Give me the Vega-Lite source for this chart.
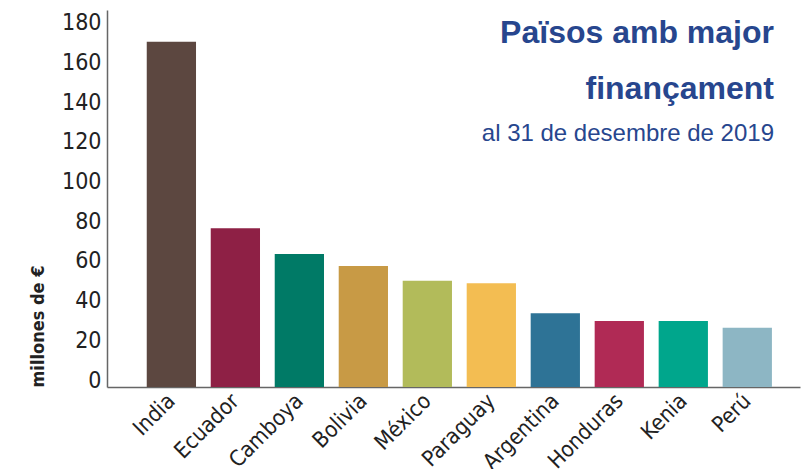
{
  "$schema": "https://vega.github.io/schema/vega-lite/v6.json",
  "width": 693,
  "height": 377,
  "autosize": {"type": "none"},
  "padding": {"left": 107, "top": 10, "right": 2, "bottom": 82},
  "background": "white",
  "config": {"view": {"stroke": null}},
  "title": {
    "text": ["Països amb major ", "finançament"],
    "subtitle": "al 31 de desembre de 2019",
    "anchor": "end",
    "frame": "group",
    "orient": "top",
    "offset": -137,
    "dx": -26,
    "font": "Liberation Sans",
    "fontSize": 32,
    "fontWeight": "bold",
    "lineHeight": 56,
    "color": "#27468e",
    "subtitleFont": "Liberation Sans",
    "subtitleFontSize": 24,
    "subtitleColor": "#27468e",
    "subtitlePadding": 16
  },
  "data": {
    "values": [
      {"pais": "India", "valor": 174},
      {"pais": "Ecuador", "valor": 80},
      {"pais": "Camboya", "valor": 67},
      {"pais": "Bolivia", "valor": 61},
      {"pais": "México", "valor": 53.5},
      {"pais": "Paraguay", "valor": 52.3},
      {"pais": "Argentina", "valor": 37.2},
      {"pais": "Honduras", "valor": 33.2},
      {"pais": "Kenia", "valor": 33.2},
      {"pais": "Perú", "valor": 29.8}
    ]
  },
  "mark": {"type": "bar"},
  "encoding": {
    "x": {
      "field": "pais",
      "type": "nominal",
      "sort": null,
      "scale": {"paddingInner": 0.23, "paddingOuter": 0.53, "align": 0.586},
      "axis": {
        "title": null,
        "labelAngle": -45,
        "labelAlign": "right",
        "labelBaseline": "middle",
        "labelPadding": 10,
        "labelFont": "Liberation Sans Narrow, DejaVu Sans Condensed",
        "labelFontSize": 22,
        "labelColor": "#222222",
        "ticks": false,
        "domainColor": "#666666",
        "domainWidth": 1.5
      }
    },
    "y": {
      "field": "valor",
      "type": "quantitative",
      "scale": {"domain": [0, 190], "nice": false},
      "axis": {
        "values": [0, 20, 40, 60, 80, 100, 120, 140, 160, 180],
        "grid": false,
        "ticks": false,
        "domainColor": "#666666",
        "domainWidth": 1.5,
        "labelBaseline": "alphabetic",
        "labelPadding": 6,
        "labelFont": "Liberation Sans Narrow, DejaVu Sans Condensed",
        "labelFontSize": 23,
        "labelColor": "#222222",
        "title": "millones de €",
        "titleFont": "Liberation Sans Narrow, DejaVu Sans Condensed",
        "titleFontSize": 18,
        "titleFontWeight": "bold",
        "titleColor": "#222222",
        "titleAnchor": "start",
        "titlePadding": 14
      }
    },
    "color": {
      "field": "pais",
      "type": "nominal",
      "legend": null,
      "scale": {
        "domain": ["India", "Ecuador", "Camboya", "Bolivia", "México", "Paraguay", "Argentina", "Honduras", "Kenia", "Perú"],
        "range": ["#5c4740", "#8e2045", "#007a66", "#c89a45", "#b2bb5a", "#f3bd52", "#2e7396", "#b02a55", "#00a68c", "#8db6c4"]
      }
    }
  }
}
